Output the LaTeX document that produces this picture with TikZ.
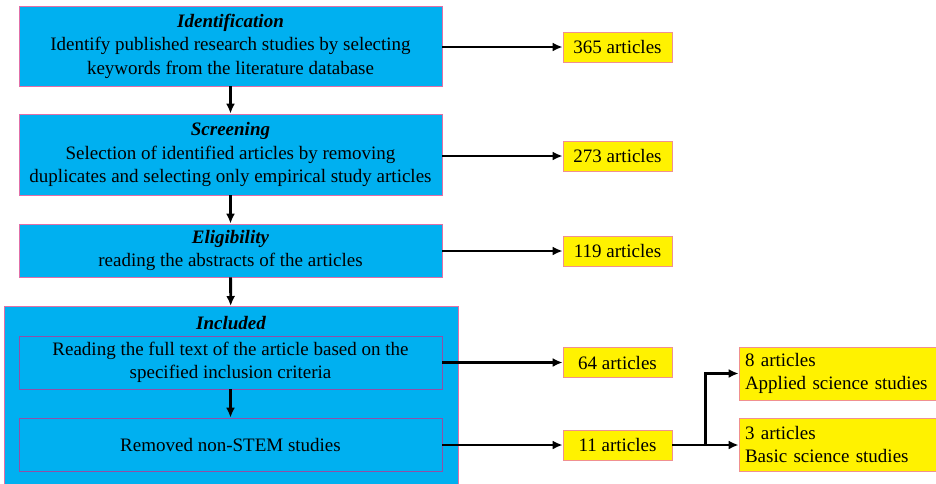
\documentclass[tikz,border=0pt]{standalone}
\usepackage{fontspec}
\setmainfont{Liberation Serif}
\usetikzlibrary{positioning,arrows.meta}
\definecolor{stagecyan}{HTML}{00B0F0}
\definecolor{stageedge}{HTML}{E070A8}
\definecolor{inneredge}{HTML}{9050A8}
\definecolor{countedge}{HTML}{F09090}

\begin{document}
\begin{tikzpicture}[x=1pt,y=-1pt]
    \tikzstyle{stage}=[draw=stageedge,fill=stagecyan,line width=0.8pt,inner sep=0pt,align=center,minimum width=423pt,font=\fontsize{19}{23.5}\selectfont]
    \tikzstyle{inner}=[stage,draw=inneredge]
    \tikzstyle{count}=[draw=countedge,fill=yellow,line width=0.8pt,inner sep=0pt,minimum width=109pt,minimum height=30pt,font=\fontsize{19}{23}\selectfont]
    \tikzstyle{result}=[count,minimum width=197pt,minimum height=53pt,align=left,text width=185pt]
    \tikzstyle{flow}=[-{Latex[length=10pt,width=9pt]},line width=2.8pt]
    \useasboundingbox (0,0) rectangle (936,483);
    % included frame
    \node[stage,anchor=north,minimum width=454pt,minimum height=178pt] (incl) at (231,306) {};
    \node[font=\fontsize{19}{23}\selectfont\bfseries\itshape] (incltitle) at (231,323) {Included};
    % stages
    \node[stage,minimum height=80pt] (ident) at (230.5,46) {\textbf{\textit{Identification}}\\Identify published research studies by selecting\\keywords from the literature database};
    \node[stage,minimum height=81pt] (screen) at (230.5,154.5) {\textbf{\textit{Screening}}\\Selection of identified articles by removing\\duplicates and selecting only empirical study articles};
    \node[stage,minimum height=53pt] (elig) at (230.5,250.5) {\textbf{\textit{Eligibility}}\\reading the abstracts of the articles};
    \node[inner,minimum height=53pt] (full) at (230.5,362.5) {Reading the full text of the article based on the\\specified inclusion criteria};
    \node[inner,minimum height=53pt] (stem) at (230.5,444.5) {Removed non-STEM studies};
    % counts
    \node[count] (c365) at (617.5,47) {365 articles};
    \node[count] (c273) at (617.5,156) {273 articles};
    \node[count] (c119) at (617.5,251) {119 articles};
    \node[count] (c64) at (617.5,362.5) {64 articles};
    \node[count] (c11) at (617.5,445) {11 articles};
    \node[result] (applied) at (837.5,373.5) {8 articles\\Applied science studies};
    \node[result] (basic) at (837.5,444.5) {3 articles\\Basic science studies};
    % connectors
    \draw[flow] (ident) -- (screen);
    \draw[flow] (screen) -- (elig);
    \draw[flow] (elig) -- (incl);
    \draw[flow] (full) -- (stem);
    \draw[flow] (ident.east |- c365) -- (c365);
    \draw[flow] (screen.east |- c273) -- (c273);
    \draw[flow] (elig.east |- c119) -- (c119);
    \draw[flow] (full.east |- c64) -- (c64);
    \draw[flow] (stem.east |- c11) -- (c11);
    \coordinate (split) at ([xshift=33pt]c11.east);
    \draw[flow] (c11.east) -- (c11.east -| basic.west);
    \draw[flow] (split) |- (applied.west);
\end{tikzpicture}
\end{document}
